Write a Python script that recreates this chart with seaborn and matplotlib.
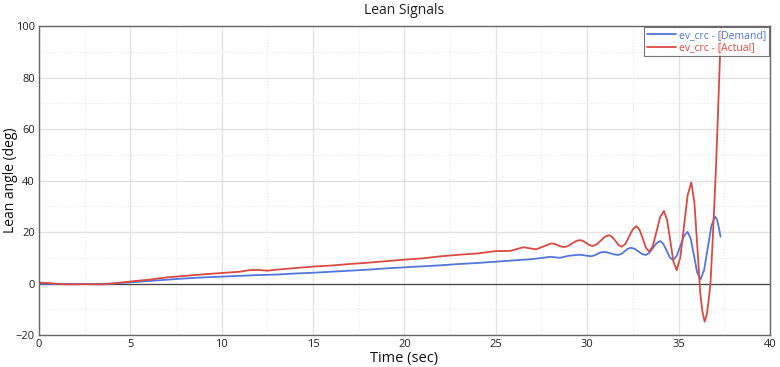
import numpy as np
import pandas as pd
import matplotlib
matplotlib.use("Agg")
import matplotlib.pyplot as plt
import seaborn as sns
from matplotlib.ticker import MultipleLocator

# Demand signal (time in sec, lean angle in deg)
demand_t = [0, 1, 2, 3, 4, 5, 6, 7, 8, 9, 10, 11, 12, 13, 14, 15, 16, 17, 18, 19,
            20, 21, 22, 23, 24, 25, 26, 27, 28, 28.5, 29.0, 29.6, 30.2,
            30.37, 30.55, 30.72, 30.9, 31.1, 31.3, 31.5, 31.7,
            31.87, 32.05, 32.22, 32.4, 32.6, 32.8, 33.0, 33.2,
            33.4, 33.6, 33.8, 34.0, 34.17, 34.35, 34.52, 34.7,
            34.9, 35.1, 35.3, 35.5, 35.67, 35.85, 36.02, 36.2,
            36.4, 36.6, 36.8, 37.0, 37.1, 37.2, 37.3]
demand_v = [0, -0.1, -0.2, -0.2, 0.0, 0.5, 1.0, 1.5, 2.0, 2.4, 2.7, 3.0, 3.3, 3.5, 3.9, 4.2, 4.6, 5.0, 5.4, 5.9,
            6.3, 6.7, 7.1, 7.6, 8.0, 8.5, 9.0, 9.5, 10.4, 10.0, 10.8, 11.2, 10.6,
            10.85, 11.45, 12.05, 12.3, 12.1, 11.7, 11.3, 11.1,
            11.5, 12.5, 13.5, 13.9, 13.5, 12.5, 11.5, 11.1,
            11.9, 13.8, 15.7, 16.5, 15.4, 12.8, 10.2, 9.1,
            10.7, 14.6, 18.5, 20.1, 17.4, 10.85, 4.3, 1.6,
            5.2, 13.8, 22.4, 26.0, 25.0, 22.0, 18.2]

# Actual signal
actual_t = [0, 0.5, 1.0, 1.5, 2.0, 2.5, 3.0, 3.5, 4.0, 4.5, 5.0, 6.0, 7.0, 8.0, 9.0, 10.0, 11.0, 11.5,
            12.0, 12.5, 13.0, 14.0, 15.0, 16.0, 17.0, 18.0, 19.0, 20.0, 21.0, 22.0, 23.0, 24.0,
            25.0, 25.8, 26.5, 27.2, 28.05, 28.22, 28.4, 28.57, 28.75,
            28.96, 29.17, 29.39, 29.6, 29.77, 29.95, 30.12, 30.3,
            30.52, 30.75, 30.97, 31.2, 31.37, 31.55, 31.72, 31.9,
            32.1, 32.3, 32.5, 32.7, 32.87, 33.05, 33.22, 33.4,
            33.6, 33.8, 34.0, 34.2, 34.37, 34.55, 34.72, 34.9,
            35.1, 35.3, 35.5, 35.7, 35.87, 36.05, 36.18, 36.3, 36.43,
            36.55, 36.65, 36.75, 36.85, 36.95, 37.05, 37.15, 37.25, 37.33, 37.36]
actual_v = [0.4, 0.2, -0.1, -0.3, -0.3, -0.2, -0.3, -0.3, 0.0, 0.4, 0.8, 1.5, 2.4, 3.0, 3.6, 4.1, 4.6, 5.2,
            5.3, 5.0, 5.4, 6.0, 6.6, 7.0, 7.6, 8.1, 8.7, 9.3, 9.8, 10.6, 11.2, 11.7,
            12.6, 12.7, 14.1, 13.3, 15.6, 15.4, 14.9, 14.4, 14.2,
            14.6, 15.55, 16.5, 16.9, 16.55, 15.75, 14.95, 14.6,
            15.2, 16.7, 18.2, 18.8, 18.1, 16.55, 15.0, 14.3,
            15.5, 18.3, 21.1, 22.3, 20.85, 17.35, 13.85, 12.4,
            14.7, 20.3, 25.9, 28.2, 24.8, 16.7, 8.6, 5.2,
            10.2, 22.25, 34.3, 39.3, 31.4, 12.25, -3.0, -10.5, -14.8,
            -12.0, -6.5, 0.0, 14.0, 29.0, 45.0, 64.0, 84.0, 100.0, 108.0]

labels = ["ev_crc - [Demand]", "ev_crc - [Actual]"]
colors = ["#5277DC", "#DB4A42"]

df = pd.concat([
    pd.DataFrame({"t": demand_t, "v": demand_v, "signal": labels[0]}),
    pd.DataFrame({"t": actual_t, "v": actual_v, "signal": labels[1]}),
])

sns.set_style("white")
plt.rcParams["font.family"] = ["Open Sans", "DejaVu Sans"]

fig, ax = plt.subplots(figsize=(7.8, 3.67), dpi=100)
fig.subplots_adjust(left=0.05, right=0.987, bottom=0.087, top=0.929)

ax.xaxis.set_major_locator(MultipleLocator(5))
ax.xaxis.set_minor_locator(MultipleLocator(2.5))
ax.yaxis.set_major_locator(MultipleLocator(20))
ax.yaxis.set_minor_locator(MultipleLocator(10))
ax.grid(which="major", color="#e3e3e3", linewidth=1.0)
ax.grid(which="minor", color="#e8e8e8", linewidth=0.8, linestyle=":")
ax.set_axisbelow(True)
ax.axhline(0, color="#444444", linewidth=0.9, zorder=1)

sns.lineplot(data=df, x="t", y="v", hue="signal", palette=colors, sort=False,
             estimator=None, linewidth=1.3, ax=ax)

ax.set_xlim(0, 40)
ax.set_ylim(-20, 100)
ax.set_title("Lean Signals", fontsize=10, color="#222222", pad=9)
ax.set_xlabel("Time (sec)", fontsize=10.5, color="#111111")
ax.set_ylabel("Lean angle (deg)", fontsize=10, color="#111111")
ax.xaxis.set_label_coords(0.5, -0.052)
ax.yaxis.set_label_coords(-0.029, 0.5)
ax.tick_params(axis="both", which="major", labelsize=8, length=2, pad=1, colors="#222222")
ax.tick_params(axis="both", which="minor", length=0)
for s in ax.spines.values():
    s.set_color("#666666")
    s.set_linewidth(1.0)

handles, _ = ax.get_legend_handles_labels()
leg = ax.legend(handles, labels, loc="upper right", fontsize=7.5, frameon=True,
                fancybox=False, edgecolor="#555555", borderpad=0.25, labelspacing=0.15,
                handlelength=2.8, handletextpad=0.3, borderaxespad=0.1)
leg.get_frame().set_linewidth(0.8)
for txt, c in zip(leg.get_texts(), colors):
    txt.set_color(c)

fig.savefig("out.png", dpi=100)
